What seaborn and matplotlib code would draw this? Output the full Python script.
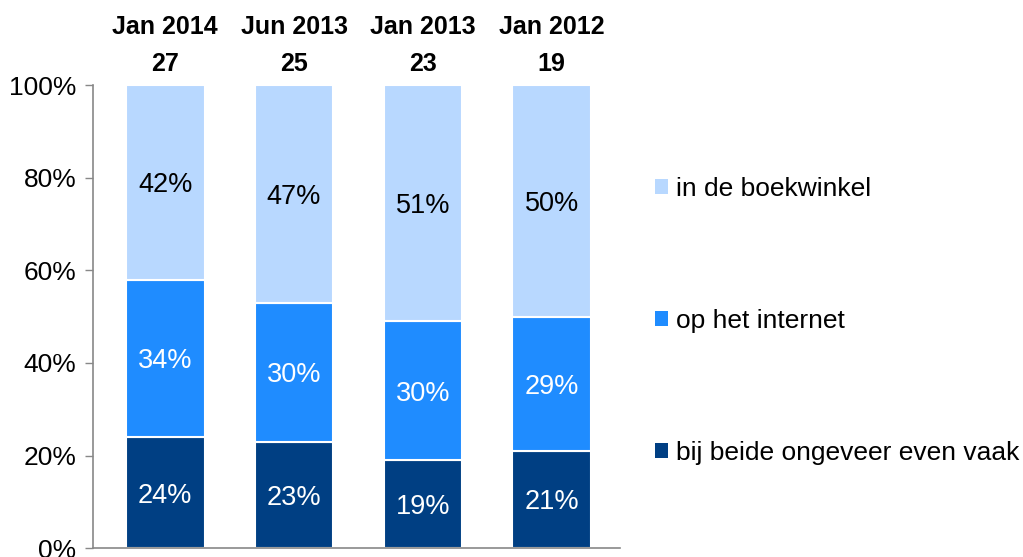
import pandas as pd
import numpy as np
import seaborn as sns
import matplotlib.pyplot as plt
from matplotlib.patches import Patch

# chart values
periods = ['Jan 2014', 'Jun 2013', 'Jan 2013', 'Jan 2012']
counts = [27, 25, 23, 19]
beide = [24, 23, 19, 21]
internet = [34, 30, 30, 29]
boekwinkel = [42, 47, 51, 50]
series_names = ['bij beide ongeveer even vaak', 'op het internet', 'in de boekwinkel']
colors = ['#003F83', '#1F8CFF', '#B8D8FF']
text_colors = ['white', 'white', 'black']


def main():
    sns.set_style('white')
    plt.rcParams['font.family'] = ['Liberation Sans', 'DejaVu Sans']
    plt.rcParams['text.color'] = 'black'
    plt.rcParams['ytick.labelcolor'] = 'black'

    df = pd.DataFrame({'period': periods,
                       series_names[0]: beide,
                       series_names[1]: internet,
                       series_names[2]: boekwinkel})

    fig = plt.figure(figsize=(10.23, 5.57), dpi=100)
    ax = fig.add_axes([0.091, 0.016, 0.515, 0.831])

    bottom = np.zeros(len(periods))
    for name, col, tcol in zip(series_names, colors, text_colors):
        sns.barplot(data=df, x='period', y=name, color=col, width=0.61,
                    bottom=bottom, edgecolor='white', linewidth=1.5,
                    ax=ax, saturation=1)
        # Put value labels in the middle of each segment
        for i, v in enumerate(df[name]):
            ax.text(i, bottom[i] + v / 2, '{:.0f}%'.format(v),
                    ha='center', va='center_baseline', color=tcol,
                    fontsize=19.5)
        bottom = bottom + df[name].values

    # Header texts above the bars
    for i, (p, c) in enumerate(zip(periods, counts)):
        ax.text(i, 112.6, p, ha='center', va='center', fontsize=18,
                fontweight='bold', clip_on=False)
        ax.text(i, 104.6, str(c), ha='center', va='center', fontsize=18,
                fontweight='bold', clip_on=False)

    ax.set_xlim(-0.56, 3.53)
    ax.set_ylim(0, 100)
    ax.set_yticks([0, 20, 40, 60, 80, 100])
    ax.set_yticklabels(['{}%'.format(t) for t in [0, 20, 40, 60, 80, 100]],
                       fontsize=19, color='black')
    ax.set_xticks([])
    ax.set_xlabel('')
    ax.set_ylabel('')
    ax.tick_params(axis='y', direction='out', length=6, width=1,
                   color='#888888', left=True, pad=6)
    for s in ['top', 'right']:
        ax.spines[s].set_visible(False)
    for s in ['left', 'bottom']:
        ax.spines[s].set_color('#888888')
        ax.spines[s].set_linewidth(1.2)

    handles = [Patch(facecolor=c, edgecolor='none') for c in colors[::-1]]
    fig.legend(handles, series_names[::-1], loc='center left',
               bbox_to_anchor=(0.627, 0.424), frameon=False, fontsize=19,
               handlelength=0.5, handleheight=0.5, handletextpad=0.3,
               labelspacing=4.1, borderpad=0, labelcolor='black')

    fig.savefig('out.png', dpi=100)


if __name__ == '__main__':
    main()
